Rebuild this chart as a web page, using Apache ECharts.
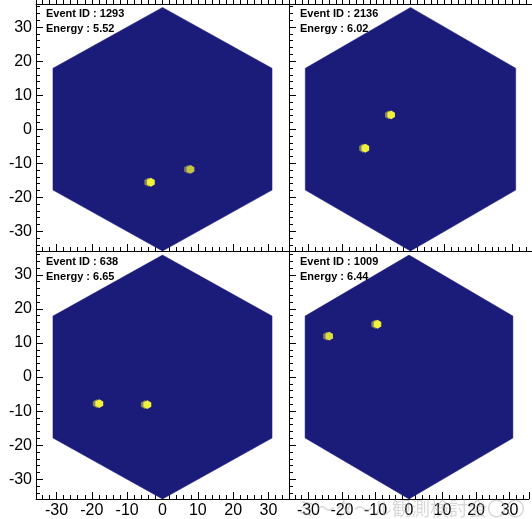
<!DOCTYPE html>
<html>
<head>
<meta charset="utf-8">
<script src="https://cdn.jsdelivr.net/npm/echarts@6/dist/echarts.min.js"></script>
<style>html,body{margin:0;padding:0;background:#fff}#c{width:532px;height:519px}</style>
</head>
<body>
<div id="c"></div>
<script>
// ---- data ----
const EVENT_IDS = ['1293', '2136', '638', '1009'];
const ENERGIES = ['5.52', '6.02', '6.65', '6.44'];
// detector outline (hexagon vertices, data units)
const HEX_OUTLINE = [[0, 35.8], [31, 17.9], [31, -17.9], [0, -35.8], [-31, -17.9], [-31, 17.9]];
// hits: [x, y, relative intensity]
const HITS_1293 = [[-4.0, -15.6, 0.5], [-3.3, -15.6, 1.0], [7.2, -11.8, 0.4], [7.9, -11.8, 0.8]];
const HITS_2136 = [[-6.4, 4.2, 0.5], [-5.7, 4.2, 1.0], [-14.0, -5.6, 0.5], [-13.3, -5.6, 1.0]];
const HITS_638 = [[-18.6, -7.8, 0.5], [-17.9, -7.8, 1.0], [-5.0, -8.1, 0.5], [-4.3, -8.1, 1.0]];
const HITS_1009 = [[-24.5, 12.0, 0.45], [-23.8, 12.0, 0.9], [-10.1, 15.5, 0.5], [-9.4, 15.5, 1.0]];
const HITS = [HITS_1293, HITS_2136, HITS_638, HITS_1009];
const AXIS_LABELS = [-30, -20, -10, 0, 10, 20, 30];
const WATERMARK = 'ミ～タ～ル観測検討会〇〇';

// ---- layout / style ----
const FONT = 'Liberation Sans, Arial, Helvetica, sans-serif';
const GRIDS = [
  {left: 36, top: 4, width: 253, height: 247},
  {left: 289, top: 4, width: 253, height: 247},
  {left: 36, top: 251, width: 253, height: 251},
  {left: 289, top: 251, width: 253, height: 251}
];
const YRANGE = [[-35.8, 36.8], [-35.8, 36.8], [-35.8, 37], [-35.8, 37]];
const XR = [-35.8, 35.8];
const NAVY = [26, 26, 124], YEL = [240, 240, 62];
function col(v) {
  const c = NAVY.map((n, i) => Math.round(n + (YEL[i] - n) * v));
  return 'rgb(' + c.join(',') + ')';
}
const fmt = v => (AXIS_LABELS.some(t => Math.abs(t - v) < 1e-6) ? String(v) : '');

const xAxes = [], yAxes = [], series = [], graphics = [];
GRIDS.forEach((g, i) => {
  const isBottom = i >= 2, isLeft = i % 2 === 0;
  const base = (pos, step, len, inside, line, labels, dim) => ({
    type: 'value', gridIndex: i, position: pos,
    min: dim === 'x' ? XR[0] : YRANGE[i][0], max: dim === 'x' ? XR[1] : YRANGE[i][1],
    minInterval: step, maxInterval: step, splitNumber: step === 10 ? 7 : 36,
    axisLine: {show: line, onZero: false, lineStyle: {color: '#000', width: 1}},
    axisTick: {show: true, inside: inside, length: len, lineStyle: {color: '#000', width: 1}},
    axisLabel: {show: labels, formatter: fmt, color: '#000', fontSize: 16, fontFamily: FONT, margin: 4},
    splitLine: {show: false}
  });
  xAxes.push(base('bottom', 10, 7, true, true, isBottom, 'x'));
  xAxes.push(base('bottom', 2, 4, true, false, false, 'x'));
  yAxes.push(base('left', 10, 7, true, true, isLeft, 'y'));
  yAxes.push(base('left', 2, 4, true, false, false, 'y'));
  const xi = xAxes.length - 2, yi = yAxes.length - 2;
  if (!isBottom) {
    // bottom axis of the (cropped) row above
    xAxes.push(base('top', 10, 7, false, true, false, 'x'));
    xAxes.push(base('top', 2, 4, false, false, false, 'x'));
  }
  series.push({
    type: 'custom', xAxisIndex: xi, yAxisIndex: yi, clip: true, silent: true,
    data: [[0, 0]],
    renderItem: (params, api) => ({
      type: 'polygon',
      shape: {points: HEX_OUTLINE.map(p => api.coord(p))},
      style: {fill: 'rgb(27,27,122)', stroke: 'rgb(30,30,130)', lineWidth: 0.5}
    })
  });
  series.push({
    type: 'custom', xAxisIndex: xi, yAxisIndex: yi, clip: true, silent: true,
    data: HITS[i],
    renderItem: (params, api) => {
      const x = api.value(0), y = api.value(1), v = api.value(2);
      const r = 1.3;
      const pts = [];
      for (let k = 0; k < 6; k++) {
        const a = Math.PI / 2 + k * Math.PI / 3;
        pts.push(api.coord([x + r * Math.cos(a), y + r * Math.sin(a)]));
      }
      return {type: 'polygon', shape: {points: pts}, style: {fill: col(v)}};
    }
  });
  const tx = isLeft ? 46 : 300, ty = isBottom ? 256 : 8;
  graphics.push({type: 'text', left: tx, top: ty, z: 100,
    style: {text: 'Event ID : ' + EVENT_IDS[i], font: 'bold 11px ' + FONT, fill: '#000'}});
  graphics.push({type: 'text', left: tx, top: ty + 15, z: 100,
    style: {text: 'Energy : ' + ENERGIES[i], font: 'bold 11px ' + FONT, fill: '#000'}});
});
graphics.push({type: 'text', left: 297, top: 499, z: 200,
  style: {text: WATERMARK, font: '19px "Noto Sans CJK JP", sans-serif', fill: 'rgba(170,170,170,0.45)'}});

const chart = echarts.init(document.getElementById('c'), null, {renderer: 'canvas'});
chart.setOption({
  animation: false,
  backgroundColor: '#fff',
  grid: GRIDS.map(g => Object.assign({containLabel: false}, g)),
  xAxis: xAxes, yAxis: yAxes, series: series, graphic: graphics
});
</script>
</body>
</html>
